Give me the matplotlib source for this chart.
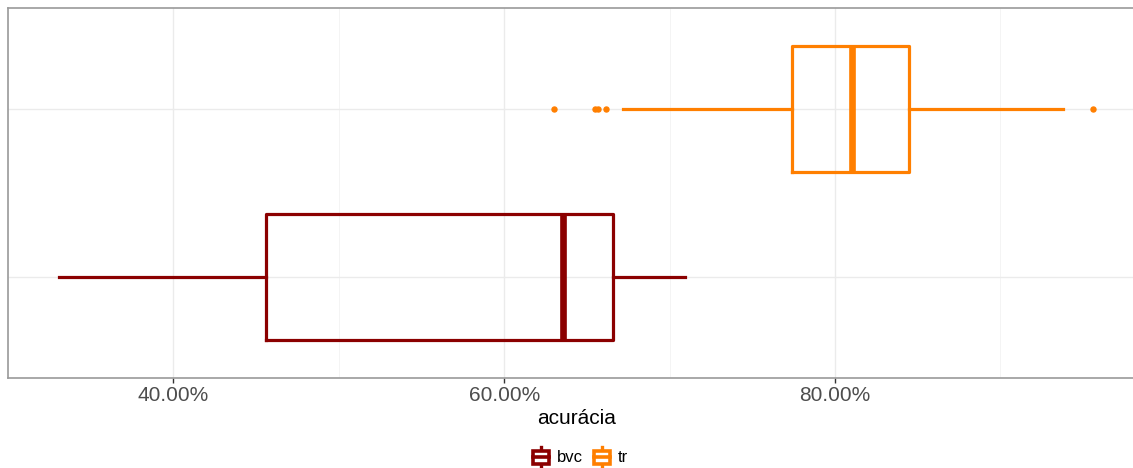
import matplotlib
matplotlib.use("Agg")
import matplotlib.pyplot as plt
from matplotlib.legend_handler import HandlerBase
from matplotlib.patches import Rectangle
from matplotlib.lines import Line2D
from matplotlib.ticker import FuncFormatter, MultipleLocator

plt.rcParams["font.family"] = ["Liberation Sans", "DejaVu Sans"]

# Accuracy summary (%) per method
groups = ["bvc", "tr"]
colors = ["#8B0000", "#FF7F00"]
whisker_low = [33.1, 67.2]
q1 = [45.6, 77.4]
median = [63.55, 81.0]
q3 = [66.6, 84.45]
whisker_high = [70.9, 93.75]
outliers = [[], [63.0, 65.5, 65.7, 66.15, 95.6]]
tick_values = [40, 60, 80]

fig = plt.figure(figsize=(11.33, 4.68), dpi=100)
# panel runs slightly past the right edge of the canvas
ax = fig.add_axes([0.007, 0.192, 1.0035, 0.791])

for i, (g, c) in enumerate(zip(groups, colors)):
    stats = [dict(label=g, whislo=whisker_low[i], q1=q1[i], med=median[i],
                  q3=q3[i], whishi=whisker_high[i], fliers=outliers[i])]
    ax.bxp(stats, positions=[i + 1], widths=0.75, orientation="horizontal",
           showcaps=False, patch_artist=False, manage_ticks=False,
           boxprops=dict(color=c, linewidth=2.3),
           whiskerprops=dict(color=c, linewidth=2.3),
           medianprops=dict(color=c, linewidth=4.8, solid_capstyle="butt"),
           flierprops=dict(marker="o", markerfacecolor=c, markeredgecolor=c,
                           markersize=3.6, linestyle="none"))

ax.set_xlim(30.0, 98.73)
ax.set_ylim(0.4, 2.6)
ax.set_yticks([1, 2])
ax.set_yticklabels([])
ax.tick_params(axis="y", length=0)
ax.xaxis.set_minor_locator(MultipleLocator(10))
ax.set_xticks(tick_values)
ax.xaxis.set_major_formatter(FuncFormatter(lambda v, p: f"{v:.2f}%"))
ax.tick_params(axis="x", which="major", length=3.5, width=1, color="#333333",
               labelsize=15, labelcolor="#4D4D4D", pad=2)
ax.tick_params(axis="x", which="minor", length=0)

ax.grid(True, which="major", color="#EBEBEB", linewidth=1.0)
ax.grid(True, which="minor", axis="x", color="#F3F3F3", linewidth=0.6)
ax.set_axisbelow(True)
for s in ax.spines.values():
    s.set_color("#9A9A9A")
    s.set_linewidth(1.2)
ax.spines["right"].set_visible(False)

ax.set_xlabel("acurácia", fontsize=15, color="black", labelpad=3)


class BoxKey(HandlerBase):
    def create_artists(self, legend, orig_handle, xdescent, ydescent,
                       width, height, fontsize, trans):
        c = orig_handle.get_color()
        x0, y0 = -xdescent, -ydescent
        cx = x0 + width / 2
        bw = width * 0.85
        top = y0 + height * 1.1
        bot = y0 - height * 0.3
        bl = y0 + height * 0.0
        bt = y0 + height * 0.85
        arts = [
            Line2D([cx, cx], [bot, top], color=c, lw=2.4, transform=trans),
            Rectangle((cx - bw / 2, bl), bw, bt - bl, facecolor="white",
                      edgecolor=c, lw=2.6, transform=trans),
            Line2D([cx - bw / 2, cx + bw / 2], [(bl + bt) / 2] * 2, color=c,
                   lw=2.6, transform=trans),
        ]
        return arts


handles = [Line2D([], [], color=c) for c in colors]
fig.legend(handles, groups, handler_map={Line2D: BoxKey()},
           loc="center", bbox_to_anchor=(0.512, 0.024),
           bbox_transform=fig.transFigure, ncol=2, frameon=False,
           fontsize=12, handlelength=1.1, handleheight=1.0,
           handletextpad=0.4, columnspacing=0.6)

fig.savefig("out.png", dpi=100)
